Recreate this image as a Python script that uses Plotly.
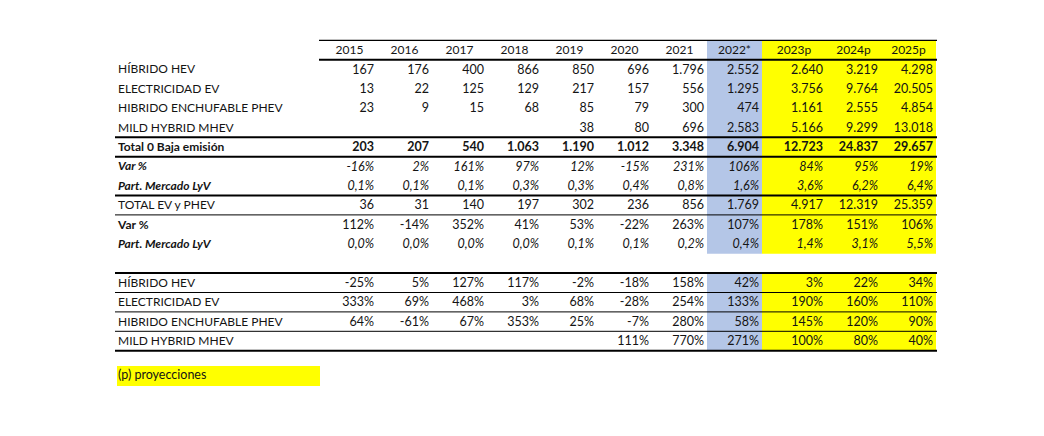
import plotly.graph_objects as go

# table data
years = ["2015", "2016", "2017", "2018", "2019", "2020", "2021", "2022*", "2023p", "2024p", "2025p"]

hev = [167, 176, 400, 866, 850, 696, 1796, 2552, 2640, 3219, 4298]
ev = [13, 22, 125, 129, 217, 157, 556, 1295, 3756, 9764, 20505]
phev = [23, 9, 15, 68, 85, 79, 300, 474, 1161, 2555, 4854]
mhev = [None, None, None, None, 38, 80, 696, 2583, 5166, 9299, 13018]
total_low = [203, 207, 540, 1063, 1190, 1012, 3348, 6904, 12723, 24837, 29657]
var_low = [-16, 2, 161, 97, 12, -15, 231, 106, 84, 95, 19]
share_low = [0.1, 0.1, 0.1, 0.3, 0.3, 0.4, 0.8, 1.6, 3.6, 6.2, 6.4]
total_ev_phev = [36, 31, 140, 197, 302, 236, 856, 1769, 4917, 12319, 25359]
var_ev_phev = [112, -14, 352, 41, 53, -22, 263, 107, 178, 151, 106]
share_ev_phev = [0.0, 0.0, 0.0, 0.0, 0.1, 0.1, 0.2, 0.4, 1.4, 3.1, 5.5]

growth_hev = [-25, 5, 127, 117, -2, -18, 158, 42, 3, 22, 34]
growth_ev = [333, 69, 468, 3, 68, -28, 254, 133, 190, 160, 110]
growth_phev = [64, -61, 67, 353, 25, -7, 280, 58, 145, 120, 90]
growth_mhev = [None, None, None, None, None, 111, 770, 271, 100, 80, 40]

footnote = "(p) proyecciones"


def fmt_int(v):
    return "" if v is None else f"{v:,}".replace(",", ".")


def fmt_pct(v):
    return "" if v is None else f"{v}%"


def fmt_dec(v):
    return "" if v is None else f"{v:.1f}%".replace(".", ",")


# row definitions: row index, label, values, label style, value style
# style = (weight, italic)
rows = [
    (1, "HÍBRIDO HEV", [fmt_int(v) for v in hev], ("normal", False), ("normal", False)),
    (2, "ELECTRICIDAD EV", [fmt_int(v) for v in ev], ("normal", False), ("normal", False)),
    (3, "HIBRIDO ENCHUFABLE PHEV", [fmt_int(v) for v in phev], ("normal", False), ("normal", False)),
    (4, "MILD HYBRID MHEV", [fmt_int(v) for v in mhev], ("normal", False), ("normal", False)),
    (5, "Total 0 Baja emisión", [fmt_int(v) for v in total_low], ("bold", False), ("bold", False)),
    (6, "Var %", [fmt_pct(v) for v in var_low], ("bold", True), ("normal", True)),
    (7, "Part. Mercado LyV", [fmt_dec(v) for v in share_low], ("bold", True), ("normal", True)),
    (8, "TOTAL EV y PHEV", [fmt_int(v) for v in total_ev_phev], ("normal", False), ("normal", False)),
    (9, "Var %", [fmt_pct(v) for v in var_ev_phev], ("bold", False), ("normal", False)),
    (10, "Part. Mercado LyV", [fmt_dec(v) for v in share_ev_phev], ("bold", True), ("normal", True)),
    (12, "HÍBRIDO HEV", [fmt_pct(v) for v in growth_hev], ("normal", False), ("normal", False)),
    (13, "ELECTRICIDAD EV", [fmt_pct(v) for v in growth_ev], ("normal", False), ("normal", False)),
    (14, "HIBRIDO ENCHUFABLE PHEV", [fmt_pct(v) for v in growth_phev], ("normal", False), ("normal", False)),
    (15, "MILD HYBRID MHEV", [fmt_pct(v) for v in growth_mhev], ("normal", False), ("normal", False)),
]

# grid geometry (axis units = page pixels)
W, H = 1044, 436
PAD = 8  # default body margin of the html page
FONT = "Lato"
FS = 12
FS_NUM = 12.5
TXT = "#141414"
BLUE = "#b4c6e7"
YELLOW = "#ffff00"

label_left = 115
col_widths = [55, 55, 55, 55, 55, 55, 55, 55, 64, 55, 55]
first_col = 322
col_left = []
x = first_col
for w in col_widths:
    col_left.append(x)
    x += w
col_right = [l + w for l, w in zip(col_left, col_widths)]
table_right = col_right[-1]

row0 = 51
row_h = 19.4


def ry(i):
    return row0 + row_h * i


def edge(r):
    # border at half-row position r (e.g. 4.5 = between rows 4 and 5)
    return ry(r) - 1


fig = go.Figure()

shapes = []
# background fills for 2022* (blue) and projections (yellow)
for (r_top, r_bot) in [(-0.5, 10.5), (11.5, 15.5)]:
    y0 = edge(r_top)
    y1 = edge(r_bot)
    shapes.append(dict(type="rect", xref="x", yref="y", x0=col_left[7], x1=col_right[7],
                       y0=y0, y1=y1, fillcolor=BLUE, line_width=0, layer="below"))
    shapes.append(dict(type="rect", xref="x", yref="y", x0=col_left[8], x1=table_right,
                       y0=y0, y1=y1, fillcolor=YELLOW, line_width=0, layer="below"))

# footnote box
fy = ry(16.75)
shapes.append(dict(type="rect", xref="x", yref="y", x0=label_left + 2, x1=first_col - 2,
                   y0=fy - 10, y1=fy + 10, fillcolor=YELLOW, line_width=0, layer="below"))

# border lines: (half-row position, x start, width)
borders = [
    (-0.5, first_col - 3, 1.2),
    (0.5, first_col - 3, 2),
    (4.5, label_left, 2),
    (5.5, label_left, 2),
    (7.5, label_left, 2),
    (8.5, label_left, 1),
    (11.5, label_left, 2),
    (12.5, label_left, 1),
    (13.5, label_left, 1),
    (14.5, label_left, 1),
    (15.5, label_left, 2),
]
for r, x0, lw in borders:
    shapes.append(dict(type="line", xref="x", yref="y", x0=x0, x1=table_right + 1,
                       y0=edge(r), y1=edge(r), line=dict(color="#000000", width=lw)))

# header row
fig.add_trace(go.Scatter(
    x=[(l + r) / 2 for l, r in zip(col_left, col_right)], y=[ry(0)] * len(years),
    mode="text", text=years, textposition="middle center",
    textfont=dict(family=FONT, size=FS, color=TXT), hoverinfo="skip", cliponaxis=False,
))

for i, label, vals, lstyle, vstyle in rows:
    fig.add_trace(go.Scatter(
        x=[label_left + 3], y=[ry(i)], mode="text", text=[label], textposition="middle right",
        textfont=dict(family=FONT, size=FS, color=TXT, weight=lstyle[0],
                      style="italic" if lstyle[1] else "normal"),
        hoverinfo="skip", cliponaxis=False,
    ))
    fig.add_trace(go.Scatter(
        x=[r - 3 for r in col_right], y=[ry(i)] * len(vals), mode="text", text=vals,
        textposition="middle left",
        textfont=dict(family=FONT, size=FS_NUM, color=TXT, weight=vstyle[0],
                      style="italic" if vstyle[1] else "normal"),
        hoverinfo="skip", cliponaxis=False,
    ))

fig.add_trace(go.Scatter(
    x=[label_left + 3], y=[fy], mode="text", text=[footnote], textposition="middle right",
    textfont=dict(family=FONT, size=FS_NUM, color=TXT), hoverinfo="skip", cliponaxis=False,
))

fig.update_layout(
    width=W - 2 * PAD, height=H - 2 * PAD,
    margin=dict(l=0, r=0, t=0, b=0),
    paper_bgcolor="white", plot_bgcolor="white",
    showlegend=False,
    shapes=shapes,
    xaxis=dict(range=[PAD, W - PAD], visible=False, fixedrange=True),
    yaxis=dict(range=[H - PAD, PAD], visible=False, fixedrange=True),
)

fig.write_html("out.html")
